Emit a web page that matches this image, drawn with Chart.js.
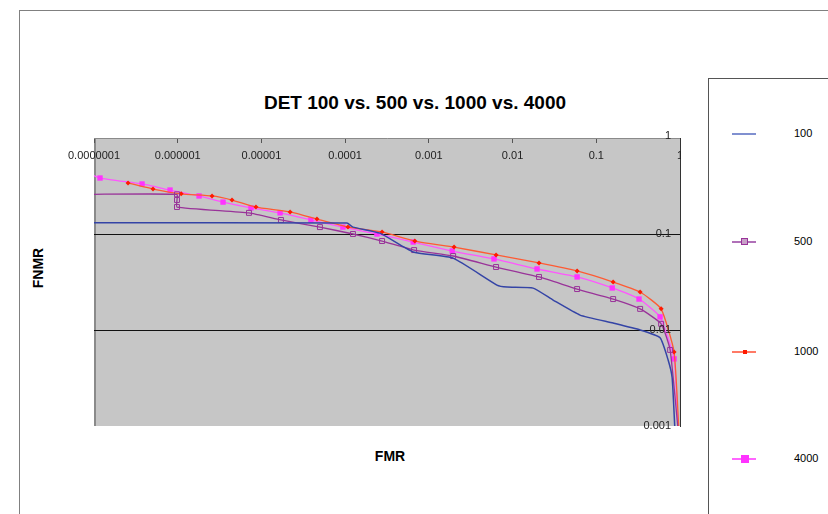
<!DOCTYPE html>
<html>
<head>
<meta charset="utf-8">
<script src="https://cdn.jsdelivr.net/npm/chart.js@4.4.1/dist/chart.umd.min.js"></script>
<style>
  body { margin: 0; width: 828px; height: 514px; overflow: hidden; background: #fff; font-family: "Liberation Sans", Arial, sans-serif; position: relative; }
  #frame { position: absolute; left: 19px; top: 10px; width: 820px; height: 520px; border-left: 1px solid #808080; border-top: 1px solid #808080; }
  #title { position: absolute; left: 0; width: 830px; top: 92px; text-align: center; font-weight: bold; font-size: 19px; color: #000; }
  #ytitle { position: absolute; left: 38px; top: 268px; font-weight: bold; font-size: 14px; transform: translate(-50%, -50%) rotate(-90deg); }
  #xtitle { position: absolute; left: 390px; top: 456px; font-weight: bold; font-size: 14px; transform: translate(-50%, -50%); }
  #box { position: absolute; left: 54px; top: 128px; width: 636px; height: 308px; }
  #legend { position: absolute; left: 708px; top: 78px; width: 140px; height: 460px; border: 1px solid #555; background: #fff; }
  .item { position: absolute; left: 23px; height: 12px; }
  .item .ln { position: absolute; left: 0; top: 5px; width: 24px; height: 2px; }
  .item .mk { position: absolute; box-sizing: border-box; }
  .item .tx { position: absolute; left: 62px; top: -1px; font-size: 11px; color: #000; }
</style>
</head>
<body>
<div id="frame"></div>
<div id="title">DET 100 vs. 500 vs. 1000 vs. 4000</div>
<div id="ytitle">FNMR</div>
<div id="xtitle">FMR</div>
<div id="box"><canvas id="det"></canvas></div>
<div id="legend"></div>
<script>
const seriesNames = ['100', '500', '1000', '4000'];
const xTicks = [1e-7, 1e-6, 1e-5, 1e-4, 1e-3, 1e-2, 1e-1, 1];
const xTickLabels = ['0.0000001', '0.000001', '0.00001', '0.0001', '0.001', '0.01', '0.1', '1'];
const yTicks = [0.001, 0.01, 0.1, 1];
const yTickLabels = ['0.001', '0.01', '0.1', '1'];

const fmr100 = [1e-7, 1.05e-4, 1.24e-4, 2.6e-4, 6.5e-4, 1.95e-3, 6.5e-3, 8.6e-3, 0.0176, 0.0305, 0.064, 0.159, 0.334, 0.578, 0.72, 0.805, 0.87];
const fnmr100 = [0.131, 0.130, 0.118, 0.102, 0.065, 0.056, 0.0294, 0.028, 0.0273, 0.0205, 0.0143, 0.0118, 0.0100, 0.0083, 0.0049, 0.0032, 0.0009];

const fmr500 = [8e-8, 9.8e-7, 9.8e-7, 9.8e-7, 7.1e-6, 1.71e-5, 5.0e-5, 1.24e-4, 2.76e-4, 6.66e-4, 1.95e-3, 6.35e-3, 0.0207, 0.059, 0.159, 0.334, 0.595, 0.762, 0.95];
const fnmr500 = [0.259, 0.259, 0.226, 0.191, 0.166, 0.140, 0.118, 0.100, 0.0845, 0.068, 0.059, 0.0453, 0.0357, 0.0267, 0.021, 0.0166, 0.0116, 0.0062, 0.0009];

const fmr1000 = [2.55e-7, 5.07e-7, 1.1e-6, 2.57e-6, 4.45e-6, 8.6e-6, 2.2e-5, 4.6e-5, 1.08e-4, 2.76e-4, 6.8e-4, 2.0e-3, 6.35e-3, 0.0207, 0.059, 0.159, 0.334, 0.595, 0.85, 0.97];
const fnmr1000 = [0.340, 0.294, 0.262, 0.249, 0.226, 0.191, 0.170, 0.143, 0.118, 0.105, 0.0845, 0.073, 0.0605, 0.0499, 0.0412, 0.0316, 0.0249, 0.0166, 0.0059, 0.0009];

const fmr4000 = [8e-8, 1.18e-7, 3.75e-7, 8.1e-7, 1.8e-6, 3.48e-6, 7.5e-6, 1.67e-5, 3.9e-5, 9.4e-5, 2.4e-4, 6.5e-4, 1.9e-3, 6.0e-3, 0.0196, 0.059, 0.155, 0.324, 0.578, 0.85, 0.95];
const fnmr4000 = [0.44, 0.383, 0.332, 0.287, 0.249, 0.215, 0.187, 0.166, 0.140, 0.118, 0.100, 0.0825, 0.0665, 0.055, 0.0432, 0.0357, 0.0274, 0.021, 0.0137, 0.0050, 0.0009];

function pairs(xs, ys) {
    return xs.map((x, i) => ({ x: x, y: ys[i] }));
}

// gray plot area like the old Excel charts
const plotBackground = {
    id: 'plotBackground',
    beforeDraw(chart) {
        const { ctx, chartArea: a } = chart;
        ctx.save();
        ctx.fillStyle = '#c6c6c6';
        ctx.fillRect(a.left, a.top, a.right - a.left, a.bottom - a.top);
        ctx.strokeStyle = '#8a8a8a';
        ctx.lineWidth = 2;
        ctx.beginPath();
        ctx.moveTo(a.left + 1, a.top);
        ctx.lineTo(a.left + 1, a.bottom);
        ctx.stroke();
        ctx.restore();
    }
};

// tick labels sit inside the plot: x under the top edge, y left of the right edge
const insideLabels = {
    id: 'insideLabels',
    afterDraw(chart) {
        const { ctx, chartArea: a, scales } = chart;
        ctx.save();
        ctx.fillStyle = '#222';
        ctx.font = '11px "Liberation Sans", Arial, sans-serif';
        ctx.textBaseline = 'middle';
        ctx.beginPath();
        ctx.rect(0, 0, a.right + 1, chart.height);
        ctx.clip();
        ctx.textAlign = 'center';
        xTicks.forEach((v, i) => {
            ctx.fillText(xTickLabels[i], scales.x.getPixelForValue(v), a.top + 18);
        });
        ctx.restore();
        ctx.save();
        ctx.fillStyle = '#222';
        ctx.font = '11px "Liberation Sans", Arial, sans-serif';
        ctx.textBaseline = 'middle';
        ctx.textAlign = 'right';
        yTicks.forEach((v, i) => {
            const py = scales.y.getPixelForValue(v);
            ctx.fillText(yTickLabels[i], a.right - 9, v === 1 ? py - 2 : py);
        });
        ctx.restore();
    }
};

const ctx = document.getElementById('det').getContext('2d');
const detChart = new Chart(ctx, {
    type: 'line',
    data: {
        datasets: [
            {
                label: seriesNames[0],
                data: pairs(fmr100, fnmr100),
                borderColor: '#3444a6',
                borderWidth: 1.5,
                pointRadius: 0,
                tension: 0.15
            },
            {
                label: seriesNames[1],
                data: pairs(fmr500, fnmr500),
                borderColor: '#993399',
                borderWidth: 1.3,
                pointStyle: 'rect',
                pointRadius: 3.5,
                pointBorderWidth: 1,
                pointBorderColor: '#993399',
                pointBackgroundColor: 'rgba(0,0,0,0)',
                tension: 0.15
            },
            {
                label: seriesNames[2],
                data: pairs(fmr1000, fnmr1000),
                borderColor: '#ff5a33',
                borderWidth: 1.3,
                pointStyle: 'rectRot',
                pointRadius: 2.5,
                pointBorderWidth: 0,
                pointBackgroundColor: '#ff1a00',
                tension: 0.15
            },
            {
                label: seriesNames[3],
                data: pairs(fmr4000, fnmr4000),
                borderColor: '#ff55ff',
                borderWidth: 1.3,
                pointStyle: 'rect',
                pointRadius: 3.8,
                pointBorderWidth: 0,
                pointBackgroundColor: '#ff33ff',
                tension: 0.15
            }
        ]
    },
    options: {
        responsive: true,
        maintainAspectRatio: false,
        animation: false,
        layout: { padding: { left: 40, right: 10, top: 10, bottom: 10 } },
        plugins: {
            legend: { display: false },
            tooltip: { enabled: false }
        },
        scales: {
            x: {
                type: 'logarithmic',
                position: 'top',
                min: 1e-7,
                max: 1,
                afterBuildTicks: (scale) => { scale.ticks = xTicks.map(v => ({ value: v })); },
                afterFit: (scale) => { scale.height = 0; },
                ticks: { display: false },
                grid: {
                    drawOnChartArea: false,
                    drawTicks: true,
                    tickLength: -5,
                    color: '#555'
                },
                border: { display: true, color: '#8a8a8a', width: 1 }
            },
            y: {
                type: 'logarithmic',
                position: 'right',
                min: 0.001,
                max: 1,
                afterBuildTicks: (scale) => { scale.ticks = yTicks.map(v => ({ value: v })); },
                afterFit: (scale) => { scale.width = 0; },
                ticks: { display: false },
                grid: {
                    drawTicks: false,
                    color: (c) => (c.tick && (c.tick.value === 0.1 || c.tick.value === 0.01)) ? '#111' : 'rgba(0,0,0,0)',
                    lineWidth: 1
                },
                border: { display: true, color: '#333', width: 1 }
            }
        }
    },
    plugins: [plotBackground, insideLabels]
});

// legend built by hand, spaced like the original
const legendColors = ['#8090d0', '#b070b8', '#ff7a66', '#ff66ff'];
const legendCenters = [134, 242, 352, 459];
const legend = document.getElementById('legend');
seriesNames.forEach((name, i) => {
    const item = document.createElement('div');
    item.className = 'item';
    item.style.top = (legendCenters[i] - 79 - 6) + 'px';
    let marker = '';
    if (i === 1) marker = '<div class="mk" style="left:9px;top:2px;width:7px;height:7px;border:1px solid #993399;background:#c8a0c8"></div>';
    if (i === 2) marker = '<div class="mk" style="left:11px;top:4px;width:4px;height:4px;background:#ff1a00"></div>';
    if (i === 3) marker = '<div class="mk" style="left:9px;top:2px;width:8px;height:8px;background:#ff33ff"></div>';
    item.innerHTML = `<div class="ln" style="background:${legendColors[i]}"></div>${marker}<div class="tx">${name}</div>`;
    legend.appendChild(item);
});
</script>
</body>
</html>
